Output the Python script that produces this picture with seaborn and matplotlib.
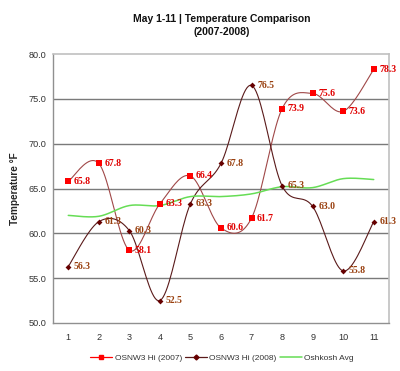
import numpy as np
import pandas as pd
import matplotlib
matplotlib.use("Agg")
import matplotlib.pyplot as plt
from matplotlib.lines import Line2D
import seaborn as sns

days = [1, 2, 3, 4, 5, 6, 7, 8, 9, 10, 11]
hi_2007 = [65.8, 67.8, 58.1, 63.3, 66.4, 60.6, 61.7, 73.9, 75.6, 73.6, 78.3]
hi_2008 = [56.3, 61.3, 60.3, 52.5, 63.3, 67.8, 76.5, 65.3, 63.0, 55.8, 61.3]
oshkosh_avg = [62.0, 61.9, 63.1, 63.1, 64.1, 64.1, 64.4, 65.2, 65.1, 66.1, 66.0]
y_ticks = [50.0, 55.0, 60.0, 65.0, 70.0, 75.0, 80.0]
series_names = ["OSNW3 Hi (2007)", "OSNW3 Hi (2008)", "Oshkosh Avg"]

sns.set_theme(style="white")
plt.rcParams['font.family'] = ['Liberation Sans', 'DejaVu Sans']


def smooth(xs, ys, n=20):
    """Excel-like smoothed line (Bezier through the points)."""
    xs = np.asarray(xs, float)
    ys = np.asarray(ys, float)
    P = np.column_stack([xs, ys])
    out = []
    for i in range(len(P) - 1):
        p0 = P[i - 1] if i > 0 else P[i]
        p1 = P[i]
        p2 = P[i + 1]
        p3 = P[i + 2] if i + 2 < len(P) else P[i + 1]
        c1 = p1 + (p2 - p0) / 6.0
        c2 = p2 - (p3 - p1) / 6.0
        t = np.linspace(0, 1, n, endpoint=(i == len(P) - 2))[:, None]
        b = ((1 - t) ** 3) * p1 + 3 * ((1 - t) ** 2) * t * c1 + 3 * (1 - t) * t ** 2 * c2 + t ** 3 * p2
        out.append(b)
    out = np.vstack(out)
    return out[:, 0], out[:, 1]


fig = plt.figure(figsize=(4.0, 3.71), dpi=100)
ax = fig.add_axes([0.1325, 0.1294, 0.84, 0.725])

c07_line, c07_mark, c07_lab = "#a04848", "#ff0000", "#e00000"
c08_line, c08_mark, c08_lab = "#5a1a1a", "#660000", "#99400f"
c_avg = "#66dd55"

frames = []
for name, vals in zip(series_names, [hi_2007, hi_2008, oshkosh_avg]):
    sx, sy = smooth(days, vals)
    frames.append(pd.DataFrame({"x": sx, "y": sy, "series": name}))
curves = pd.concat(frames, ignore_index=True)

for name, col, lw in zip(series_names, [c07_line, c08_line, c_avg], [0.8, 0.8, 1.1]):
    d = curves[curves.series == name]
    sns.lineplot(data=d, x="x", y="y", sort=False, estimator=None, ax=ax,
                 color=col, linewidth=lw, legend=False)

pts = pd.DataFrame({"day": days * 2, "val": hi_2007 + hi_2008,
                    "series": [series_names[0]] * 11 + [series_names[1]] * 11})
sns.scatterplot(data=pts[pts.series == series_names[0]], x="day", y="val", ax=ax,
                marker="s", s=16, color=c07_mark, edgecolor=c07_mark, linewidth=0, legend=False, zorder=5)
sns.scatterplot(data=pts[pts.series == series_names[1]], x="day", y="val", ax=ax,
                marker="D", s=9, color=c08_mark, edgecolor=c08_mark, linewidth=0, legend=False, zorder=5)

lab_font = ["Liberation Serif", "DejaVu Serif"]
for x, v in zip(days, hi_2007):
    ax.annotate(f"{v:.1f}", (x, v), xytext=(4, 0), textcoords="offset points",
                va="center", ha="left", fontsize=7, fontweight="bold",
                color=c07_lab, family=lab_font, zorder=6)
for x, v in zip(days, hi_2008):
    ax.annotate(f"{v:.1f}", (x, v), xytext=(4, 0), textcoords="offset points",
                va="center", ha="left", fontsize=7, fontweight="bold",
                color=c08_lab, family=lab_font, zorder=6)

ax.set_xlim(0.5, 11.5)
ax.set_ylim(50, 80)
ax.set_yticks(y_ticks)
ax.set_yticklabels([f"{t:.1f}" for t in y_ticks], fontsize=6.6, color="#333333")
ax.set_xticks(days)
ax.set_xticklabels([str(d) for d in days], fontsize=6.6, color="#333333")
ax.set_xticks(np.arange(0.5, 12, 1), minor=True)
ax.tick_params(axis="x", which="major", length=0, pad=7)
ax.tick_params(axis="x", which="minor", length=3, direction="inout", color="#808080", width=0.8)
ax.tick_params(axis="y", which="major", length=4, direction="inout", color="#808080", width=0.8, pad=3)
ax.set_xlabel("")
ax.set_ylabel("Temperature °F", fontsize=7.2, fontweight="bold", labelpad=6)

for yv in y_ticks[1:-1]:
    ax.axhline(yv, color="#7a7a7a", linewidth=1.0, zorder=0)

for s in ["left", "bottom"]:
    ax.spines[s].set_color("#909090")
    ax.spines[s].set_linewidth(1.0)
for s in ["top", "right"]:
    ax.spines[s].set_color("#c0c0c0")
    ax.spines[s].set_linewidth(1.2)

fig.text(0.555, 0.949, "May 1-11 | Temperature Comparison", ha="center", va="center",
         fontsize=7.5, fontweight="bold", color="#111111")
fig.text(0.555, 0.913, "(2007-2008)", ha="center", va="center",
         fontsize=7.5, fontweight="bold", color="#111111")

handles = [
    Line2D([], [], color=c07_mark, linewidth=0.9, marker="s", markersize=3.5),
    Line2D([], [], color=c08_line, linewidth=0.9, marker="D", markersize=2.5, markerfacecolor=c08_mark, markeredgecolor=c08_mark),
    Line2D([], [], color=c_avg, linewidth=1.1),
]
fig.legend(handles, series_names, loc="center", bbox_to_anchor=(0.555, 0.035), ncol=3,
           frameon=False, fontsize=6.0, handlelength=2.6, columnspacing=0.4, handletextpad=0.3,
           labelcolor="#333333")

fig.savefig("out.png", dpi=100, facecolor="white")
